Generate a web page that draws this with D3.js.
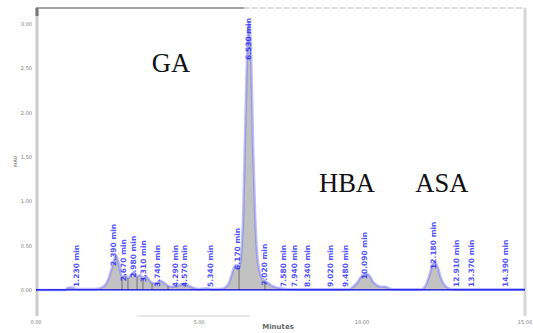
<!DOCTYPE html>
<html>
<head>
<meta charset="utf-8">
<script src="https://cdn.jsdelivr.net/npm/d3@7"></script>
<style>
  html, body { margin: 0; padding: 0; background: #fff; }
  svg { display: block; }
</style>
</head>
<body>
<svg id="chart" width="533" height="333"></svg>
<script>
// Detector trace: retention time (min) and signal
const times = [0, 0.89, 0.98, 1.10, 1.23, 1.84, 1.99, 2.12, 2.21, 2.30, 2.39, 2.45, 2.52, 2.58, 2.64,
  2.73, 2.82, 2.91, 3.01, 3.10, 3.19, 3.28, 3.37, 3.47, 3.56, 3.68, 3.80, 3.93, 4.05, 4.17, 4.29,
  4.42, 4.54, 4.66, 4.82, 5.00, 5.21, 5.40, 5.67, 5.80, 5.92, 6.01, 6.10, 6.17, 6.23, 6.29, 6.35,
  6.41, 6.47, 6.53, 6.60, 6.66, 6.72, 6.78, 6.84, 6.93, 7.02, 7.12, 7.24, 7.42, 7.67, 8.10, 9.60,
  9.72, 9.85, 9.97, 10.06, 10.15, 10.25, 10.34, 10.46, 10.58, 10.71, 10.83, 11.01, 11.81, 11.90,
  11.99, 12.09, 12.15, 12.21, 12.27, 12.33, 12.42, 12.52, 12.61, 12.73, 12.88, 15.0];
const signal = [0, 0, 0.023, 0.028, 0.011, 0.011, 0.023, 0.056, 0.113, 0.214, 0.327, 0.384, 0.327, 0.214, 0.147,
  0.169, 0.135, 0.169, 0.203, 0.147, 0.169, 0.135, 0.158, 0.113, 0.079, 0.073, 0.102, 0.079, 0.045, 0.034, 0.040,
  0.056, 0.068, 0.051, 0.023, 0.011, 0.017, 0.011, 0.011, 0.028, 0.079, 0.181, 0.271, 0.282, 0.248, 0.384, 0.767,
  1.693, 2.573, 3.025, 2.618, 1.603, 0.858, 0.418, 0.237, 0.135, 0.102, 0.079, 0.045, 0.023, 0.011, 0.006, 0.006,
  0.034, 0.079, 0.147, 0.175, 0.181, 0.147, 0.090, 0.051, 0.034, 0.034, 0.017, 0.006, 0.006, 0.023,
  0.079, 0.192, 0.271, 0.316, 0.299, 0.248, 0.135, 0.062, 0.028, 0.011, 0.006, 0.006];

// Integrated peaks: retention times
const peakTimes = [1.23, 2.39, 2.67, 2.98, 3.31, 3.74, 4.29, 4.57, 5.34, 6.17, 6.53, 7.02, 7.58, 7.94,
  8.34, 9.02, 9.48, 10.09, 12.18, 12.91, 13.37, 14.39];
// Integration boundaries (drop lines) between co-eluting peaks
const dropTimes = [2.64, 2.82, 3.10, 3.28, 3.56, 4.05, 6.23, 7.02];

// Named compounds
const compoundNames = ["GA", "HBA", "ASA"];
const compoundTimes = [4.14, 9.54, 12.45];
const compoundLevels = [2.46, 1.1, 1.1];

// Axis ticks
const xTicks = [0, 5, 10, 15];
const xTickLabels = ["0.00", "5.00", "10.00", "15.00"];
const yTicks = [0, 0.5, 1.0, 1.5, 2.0, 2.5, 3.0];
const yTickLabels = ["0.00", "0.50", "1.00", "1.50", "2.00", "2.50", "3.00"];
const xTitle = "Minutes";
const yTitle = "mAU";

const svg = d3.select("#chart");
const plotLeft = 36, plotRight = 525, plotTop = 8, plotBottom = 316;

const x = d3.scaleLinear().domain([0, 15]).range([plotLeft, plotRight]);
const y = d3.scaleLinear().domain([-0.295, 3.183]).range([plotBottom, plotTop]);

const pts = times.map((t, i) => [t, signal[i]]);
const interp = t => {
  const i = d3.bisectRight(times, t);
  if (i <= 0) return signal[0];
  if (i >= times.length) return signal[signal.length - 1];
  const t0 = times[i - 1], t1 = times[i];
  return signal[i - 1] + (signal[i] - signal[i - 1]) * (t - t0) / (t1 - t0);
};

// Frame
svg.append("line").attr("x1", plotLeft).attr("x2", 244).attr("y1", plotTop).attr("y2", plotTop)
  .attr("stroke", "#4a4a4a").attr("stroke-width", 1.2);
svg.append("line").attr("x1", 244).attr("x2", plotRight).attr("y1", plotTop).attr("y2", plotTop)
  .attr("stroke", "#bdbdbd").attr("stroke-width", 1.2).attr("stroke-dasharray", "6,2");
svg.append("line").attr("x1", plotRight).attr("x2", plotRight).attr("y1", plotTop).attr("y2", plotBottom)
  .attr("stroke", "#d6d6d6").attr("stroke-width", 3);
svg.append("line").attr("x1", plotLeft + 1).attr("x2", plotLeft + 1).attr("y1", plotTop).attr("y2", plotBottom)
  .attr("stroke", "#cbcbcb").attr("stroke-width", 3);
svg.append("line").attr("x1", plotLeft + 1).attr("x2", plotLeft + 1).attr("y1", plotTop).attr("y2", plotTop + 8)
  .attr("stroke", "#777").attr("stroke-width", 3);
svg.append("line").attr("x1", 137).attr("x2", 250).attr("y1", plotBottom).attr("y2", plotBottom)
  .attr("stroke", "#cfcfcf").attr("stroke-width", 1);

// Y axis ticks and labels
svg.append("g").selectAll("text").data(yTicks).join("text")
  .attr("x", 32).attr("y", d => y(d) + 2)
  .attr("text-anchor", "end")
  .attr("font-family", "DejaVu Sans").attr("font-size", 5)
  .attr("fill", "#777")
  .text((d, i) => yTickLabels[i]);
svg.append("text")
  .attr("transform", `translate(17,${y(1.45)}) rotate(-90)`)
  .attr("text-anchor", "middle")
  .attr("font-family", "DejaVu Sans").attr("font-size", 5).attr("fill", "#666")
  .text(yTitle);

// X axis labels
svg.append("g").selectAll("text").data(xTicks).join("text")
  .attr("x", d => x(d)).attr("y", 324)
  .attr("text-anchor", "middle")
  .attr("font-family", "DejaVu Sans").attr("font-size", 5)
  .attr("fill", "#777")
  .text((d, i) => xTickLabels[i]);
svg.append("text")
  .attr("x", 278).attr("y", 329)
  .attr("text-anchor", "middle")
  .attr("font-family", "DejaVu Sans").attr("font-size", 7).attr("font-weight", "bold")
  .attr("fill", "#666")
  .text(xTitle);

// Trace area
const area = d3.area().x(d => x(d[0])).y0(y(0)).y1(d => y(d[1])).curve(d3.curveMonotoneX);
const line = d3.line().x(d => x(d[0])).y(d => y(d[1])).curve(d3.curveMonotoneX);
svg.append("path").datum(pts).attr("d", area).attr("fill", "#c2c2c2");

// Drop lines
svg.append("g").selectAll("line").data(dropTimes).join("line")
  .attr("x1", d => x(d)).attr("x2", d => x(d))
  .attr("y1", y(0)).attr("y2", d => y(interp(d)))
  .attr("stroke", "#8e8e8e").attr("stroke-width", 1.6);

svg.append("path").datum(pts).attr("d", line)
  .attr("fill", "none").attr("stroke", "#6a6aff").attr("stroke-opacity", 0.45).attr("stroke-width", 2.5);

// Baseline
svg.append("line").attr("x1", plotLeft).attr("x2", plotRight).attr("y1", y(0)).attr("y2", y(0))
  .attr("stroke", "#0000ee").attr("stroke-width", 1.4);

// Peak retention time labels
const labelTop = 18;
svg.append("g").selectAll("text").data(peakTimes).join("text")
  .attr("font-family", "DejaVu Sans").attr("font-size", 7.5).attr("font-weight", "bold")
  .attr("fill", "#1f1fff").attr("fill-opacity", 0.8)
  .text(d => d.toFixed(3) + " min")
  .each(function (d) {
    const len = this.getComputedTextLength();
    const yb = Math.max(Math.min(y(interp(d)) + 5, y(0) - 3), labelTop + len);
    d3.select(this).attr("transform", `translate(${x(d) + 2.5},${yb}) rotate(-90)`);
  });

// Compound names
svg.append("g").selectAll("text").data(compoundNames).join("text")
  .attr("x", (d, i) => x(compoundTimes[i]))
  .attr("y", (d, i) => y(compoundLevels[i]))
  .attr("text-anchor", "middle")
  .attr("font-family", "Liberation Serif").attr("font-size", 26.5)
  .attr("fill", "#111")
  .text(d => d);
</script>
</body>
</html>
